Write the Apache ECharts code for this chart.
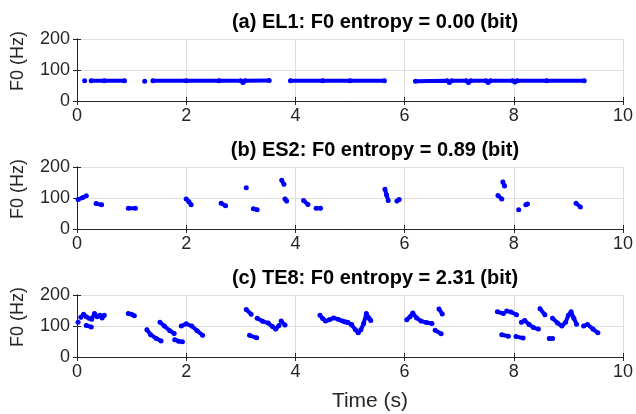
<!DOCTYPE html>
<html><head><meta charset="utf-8">
<script src="https://cdn.jsdelivr.net/npm/echarts@6/dist/echarts.min.js"></script>
<style>html,body{margin:0;padding:0;background:#fff}#c{width:636px;height:414px}</style>
</head><body><div id="c"></div>
<script>
// Panel titles and tick labels
const titles = ['(a) EL1: F0 entropy = 0.00 (bit)', '(b) ES2: F0 entropy = 0.89 (bit)', '(c) TE8: F0 entropy = 2.31 (bit)'];
const xTicks = [0, 2, 4, 6, 8, 10];
const yTicks = [0, 100, 200];
const xName = 'Time (s)';
const yName = 'F0 (Hz)';

// Voiced F0 segments: each is a list of [time (s), F0 (Hz)]
const segA = [
  [[0.14, 65]],
  [[0.26, 65], [0.5, 65], [0.87, 65]],
  [[1.24, 64]],
  [[1.39, 65], [2.0, 65], [2.6, 65], [3.0, 65], [3.04, 60], [3.08, 65], [3.52, 66]],
  [[3.91, 65], [4.5, 65], [5.0, 65], [5.63, 65]],
  [[6.2, 64], [6.78, 65], [6.82, 60], [6.86, 65], [7.13, 65], [7.17, 60], [7.21, 65], [7.49, 65], [7.53, 60], [7.57, 65], [7.98, 65], [8.02, 61], [8.06, 65], [8.6, 65], [9.29, 65]]
];
const segB = [
  [[0.02, 95], [0.1, 101], [0.17, 107]],
  [[0.35, 82], [0.45, 78]],
  [[0.94, 67], [1.07, 67]],
  [[2.0, 97], [2.05, 88], [2.09, 78]],
  [[2.64, 83], [2.72, 75]],
  [[3.10, 133]],
  [[3.23, 65], [3.30, 62]],
  [[3.75, 157], [3.79, 144]],
  [[3.81, 97], [3.84, 90]],
  [[4.15, 92], [4.23, 79]],
  [[4.38, 67], [4.46, 67]],
  [[5.64, 128], [5.67, 110], [5.70, 92]],
  [[5.86, 90], [5.90, 95]],
  [[7.71, 108], [7.78, 97]],
  [[7.80, 152], [7.83, 139]],
  [[8.09, 62]],
  [[8.22, 78], [8.25, 81]],
  [[9.14, 83], [9.22, 71]]
];
const segC = [
  [[0.02, 112]],
  [[0.07, 128], [0.12, 138], [0.17, 130], [0.22, 125]],
  [[0.17, 102], [0.26, 97]],
  [[0.27, 122], [0.32, 140], [0.37, 130], [0.42, 135], [0.46, 126], [0.50, 135]],
  [[0.94, 140], [1.0, 138], [1.05, 133]],
  [[1.28, 88], [1.35, 72], [1.45, 60], [1.54, 52]],
  [[1.52, 112], [1.6, 100], [1.7, 85], [1.78, 76]],
  [[1.79, 56], [1.86, 51], [1.93, 49]],
  [[1.91, 100], [2.0, 107], [2.1, 100], [2.2, 85], [2.3, 70]],
  [[3.10, 153], [3.19, 138]],
  [[3.16, 70], [3.29, 62]],
  [[3.30, 125], [3.40, 115], [3.50, 110], [3.58, 98], [3.64, 90], [3.70, 102]],
  [[3.74, 116], [3.81, 103]],
  [[4.45, 135], [4.5, 124], [4.55, 116], [4.62, 120], [4.7, 126], [4.78, 122], [4.86, 116], [4.96, 112]],
  [[4.91, 113], [5.03, 105]],
  [[5.03, 103], [5.1, 88], [5.15, 78], [5.2, 88], [5.25, 108], [5.3, 140], [5.35, 125], [5.38, 118]],
  [[6.04, 120], [6.1, 130], [6.15, 142], [6.22, 126], [6.3, 116], [6.4, 111], [6.5, 108]],
  [[6.63, 155], [6.69, 139]],
  [[6.56, 86], [6.67, 75]],
  [[7.70, 146], [7.81, 140]],
  [[7.87, 148], [7.95, 145], [8.05, 136]],
  [[7.78, 72], [7.90, 67]],
  [[8.04, 66], [8.17, 61]],
  [[8.14, 112], [8.2, 118], [8.28, 105], [8.36, 95], [8.45, 90]],
  [[8.48, 156], [8.57, 136]],
  [[8.65, 60], [8.71, 60]],
  [[8.71, 125], [8.8, 110], [8.88, 100], [8.95, 112], [9.0, 135], [9.05, 146], [9.1, 125], [9.15, 106]],
  [[9.28, 100], [9.35, 105], [9.45, 90], [9.54, 78]]
];
const panels = [segA, segB, segC];

function joinSegs(segs) {
  const out = [];
  segs.forEach((s, i) => { if (i) out.push(null); s.forEach(p => out.push(p)); });
  return out;
}

const FONT = 'Liberation Sans, Arial, sans-serif';
const tops = [39, 167, 295];
const H = 62;
const grid = [], xAxis = [], yAxis = [], series = [], title = [], graphic = [];
tops.forEach((top, i) => {
  grid.push({ left: 77, width: 546, top: top, height: H, containLabel: false });
  title.push({
    text: titles[i], left: 370, top: top - 32, textAlign: 'center',
    textStyle: { fontFamily: FONT, fontSize: 20, fontWeight: 'bold', color: '#000' }
  });
  graphic.push({
    type: 'text', x: 18, y: top + H / 2 - 9, rotation: Math.PI / 2,
    style: { text: yName, fontFamily: FONT, fontSize: 18, fill: '#262626', align: 'center', verticalAlign: 'middle' }
  });
  const axLine = { show: true, lineStyle: { color: '#262626', width: 1 } };
  xAxis.push({
    type: 'value', gridIndex: i, min: xTicks[0], max: xTicks[xTicks.length - 1], interval: 2,
    axisLine: axLine, axisTick: { show: true, inside: true, length: 4, lineStyle: { color: '#262626' } },
    axisLabel: { fontFamily: FONT, fontSize: 18, color: '#262626', margin: 6 },
    splitLine: { show: true, lineStyle: { color: '#dedede', width: 1 } }
  });
  xAxis.push({
    type: 'value', gridIndex: i, position: 'top', min: 0, max: 10, interval: 2,
    axisLine: axLine, axisTick: { show: true, inside: true, length: 4, lineStyle: { color: '#262626' } },
    axisLabel: { show: false }, splitLine: { show: false }
  });
  yAxis.push({
    type: 'value', gridIndex: i, min: yTicks[0], max: yTicks[yTicks.length - 1], interval: 100,
    axisLine: axLine, axisTick: { show: true, inside: true, length: 4, lineStyle: { color: '#262626' } },
    axisLabel: { fontFamily: FONT, fontSize: 18, color: '#262626', margin: 7 },
    splitLine: { show: true, lineStyle: { color: '#dedede', width: 1 } }
  });
  yAxis.push({
    type: 'value', gridIndex: i, position: 'right', min: 0, max: 200, interval: 100,
    axisLine: axLine, axisTick: { show: true, inside: true, length: 4, lineStyle: { color: '#262626' } },
    axisLabel: { show: false }, splitLine: { show: false }
  });
  series.push({
    type: 'line', xAxisIndex: 2 * i, yAxisIndex: 2 * i, data: joinSegs(panels[i]),
    connectNulls: false, showSymbol: true, symbol: 'circle', symbolSize: 5,
    itemStyle: { color: '#0000ff' }, lineStyle: { color: '#0000ff', width: 4, cap: 'round', join: 'round' },
    silent: true, animation: false
  });
});
graphic.push({
  type: 'text', x: 370, y: 401,
  style: { text: xName, fontFamily: FONT, fontSize: 21, fill: '#262626', align: 'center', verticalAlign: 'middle' }
});

const chart = echarts.init(document.getElementById('c'), null, { renderer: 'canvas' });
chart.setOption({ animation: false, backgroundColor: '#fff', title, grid, xAxis, yAxis, series, graphic });
</script>
</body></html>
